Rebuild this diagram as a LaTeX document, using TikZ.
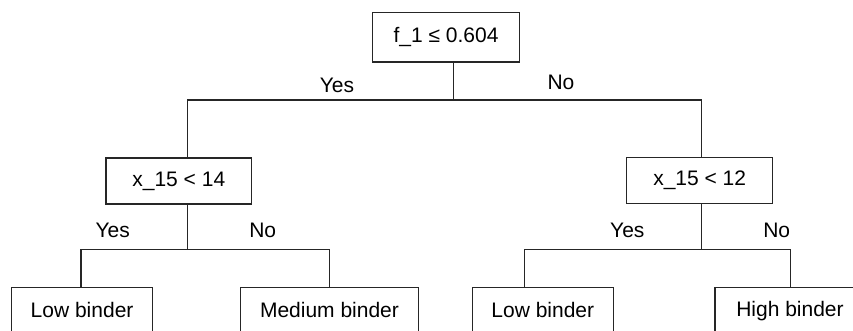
\documentclass[tikz,border=0pt]{standalone}
\usepackage{fontspec}
\setmainfont{Liberation Sans}
\begin{document}
\begin{tikzpicture}[x=1pt,y=-1pt,
  line width=1.3pt, draw=black!85,
  box/.style={draw=black!85, line width=1.3pt, inner sep=0pt, font=\fontsize{21}{24}\selectfont},
  leaf/.style={box, minimum height=46pt, anchor=north},
  lbl/.style={inner sep=0pt, font=\fontsize{21}{24}\selectfont}]
\useasboundingbox (0,0) rectangle (853,331);
\clip (0,0) rectangle (853,331);
% decision nodes
\node[box, minimum width=146.6pt, minimum height=49.3pt] (root) at (446,37.3) {f\_1 ≤ 0.604};
\node[box, minimum width=145.7pt, minimum height=46pt] (lc) at (178.8,181) {x\_15 < 14};
\node[box, minimum width=146pt, minimum height=46.4pt] (rc) at (699.7,180.5) {x\_15 < 12};
% leaves
\node[leaf, minimum width=140.8pt] (l1) at (82.1,287) {\raisebox{2pt}{Low binder}};
\node[leaf, minimum width=177.6pt] (l2) at (329.5,287) {\raisebox{2pt}{Medium binder}};
\node[leaf, minimum width=141pt] (l3) at (542.8,287) {\raisebox{2pt}{Low binder}};
\node[leaf, minimum width=150pt] (l4) at (790,287) {\raisebox{2pt}{High binder}};
% junctions
\coordinate (j0) at (453.3,100);
\coordinate (j1) at (187.3,249.3);
\coordinate (j2) at (701.7,249.3);
% connectors
\draw (root.south -| j0) -- (j0);
\draw (lc.north -| j1) |- (j0) -| (rc.north -| j2);
\draw (lc.south -| j1) -- (j1);
\draw (l1.north -| 81,0) |- (j1) -| (l2.north -| 329.3,0);
\draw (rc.south -| j2) -- (j2);
\draw (l3.north -| 524.3,0) |- (j2) -| (l4.north -| 790.7,0);
% labels
\node[lbl] (y0) at (337,85) {Yes};
\node[lbl] (n0) at (561,82) {No};
\node[lbl] (y1) at (112.7,230) {Yes};
\node[lbl] (n1) at (262.7,230) {No};
\node[lbl] (y2) at (627.3,230) {Yes};
\node[lbl] (n2) at (776.7,230) {No};
\end{tikzpicture}
\end{document}
